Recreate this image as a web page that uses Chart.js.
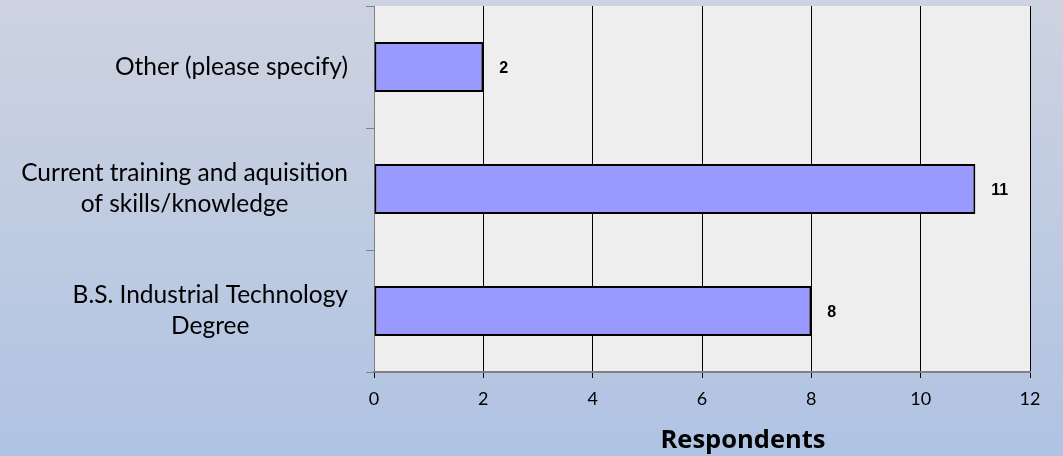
<!DOCTYPE html>
<html>
<head>
<meta charset="utf-8">
<script src="https://cdn.jsdelivr.net/npm/chart.js@4/dist/chart.umd.min.js"></script>
<style>
    html, body { margin: 0; padding: 0; }
    body {
        width: 1063px;
        height: 456px;
        background: linear-gradient(to bottom, #cdd3e0 0%, #bfcbe1 50%, #afc3e3 100%);
        overflow: hidden;
    }
    #wrap { position: relative; width: 1063px; height: 456px; }
</style>
</head>
<body>
<div id="wrap"><canvas id="reasonChart"></canvas></div>
<script>
// data
const categories = [
    ['Other (please specify)'],
    ['Current training and aquisition', 'of skills/knowledge'],
    ['B.S. Industrial Technology', 'Degree']
];
const respondents = [2, 11, 8];
const xTicks = [0, 2, 4, 6, 8, 10, 12];
const xTitle = 'Respondents';

const labelFont = '24.5px Lato, "Open Sans", sans-serif';
const labelLineHeight = 31;

// grey plot area behind the bars
const plotBackground = {
    id: 'plotBackground',
    beforeDraw(chart) {
        const {ctx, chartArea} = chart;
        ctx.save();
        ctx.fillStyle = '#eeeeee';
        ctx.fillRect(chartArea.left, chartArea.top, chartArea.right - chartArea.left, chartArea.bottom - chartArea.top);
        ctx.restore();
    }
};

// category labels: block right aligned to the axis, lines centred in the block
const categoryLabels = {
    id: 'categoryLabels',
    afterDraw(chart) {
        const {ctx} = chart;
        const yAxis = chart.scales.y;
        const right = yAxis.right - 8 - 18;
        ctx.save();
        ctx.font = labelFont;
        ctx.fillStyle = '#000';
        ctx.textAlign = 'center';
        ctx.textBaseline = 'middle';
        categories.forEach((lines, i) => {
            const y = yAxis.getPixelForTick(i);
            const blockWidth = Math.max(...lines.map(l => ctx.measureText(l).width));
            const cx = right - blockWidth / 2;
            const y0 = y - (lines.length - 1) * labelLineHeight / 2;
            lines.forEach((line, j) => {
                ctx.fillText(line, cx, y0 + j * labelLineHeight);
            });
        });
        ctx.restore();
    }
};

// x axis title, sits a bit right of the axis centre like the original
const axisTitle = {
    id: 'axisTitle',
    afterDraw(chart) {
        const {ctx} = chart;
        const xAxis = chart.scales.x;
        const cx = (xAxis.left + xAxis.right) / 2 + 41;
        ctx.save();
        ctx.font = 'bold 25.5px "Open Sans", sans-serif';
        ctx.fillStyle = '#000';
        ctx.textAlign = 'center';
        ctx.textBaseline = 'alphabetic';
        ctx.fillText(xTitle, cx, xAxis.bottom - 8);
        ctx.restore();
    }
};

// bold value labels right of each bar
const valueLabels = {
    id: 'valueLabels',
    afterDatasetsDraw(chart) {
        const {ctx} = chart;
        const meta = chart.getDatasetMeta(0);
        ctx.save();
        ctx.font = 'bold 16px "Liberation Sans", Arial, sans-serif';
        ctx.fillStyle = '#000';
        ctx.textAlign = 'left';
        ctx.textBaseline = 'middle';
        meta.data.forEach((bar, i) => {
            ctx.fillText(String(respondents[i]), bar.x + 16, bar.y + 2);
        });
        ctx.restore();
    }
};

const ctx = document.getElementById('reasonChart').getContext('2d');
const reasonChart = new Chart(ctx, {
    type: 'bar',
    data: {
        labels: categories,
        datasets: [{
            data: respondents,
            backgroundColor: '#9999ff',
            borderColor: '#000000',
            borderWidth: 2,
            borderSkipped: false,
            barPercentage: 0.41,
            categoryPercentage: 1.0
        }]
    },
    options: {
        indexAxis: 'y',
        responsive: true,
        maintainAspectRatio: false,
        animation: false,
        layout: {
            padding: {top: 6, right: 33, left: 0, bottom: 0}
        },
        plugins: {
            legend: {display: false},
            tooltip: {enabled: false}
        },
        scales: {
            x: {
                type: 'linear',
                min: 0,
                max: 12,
                afterBuildTicks(axis) {
                    axis.ticks = xTicks.map(v => ({value: v}));
                },
                afterFit(axis) {
                    axis.height = 84;
                    axis.paddingLeft = 0;
                    axis.paddingRight = 0;
                },
                grid: {
                    color: '#000000',
                    lineWidth: 1,
                    tickLength: 6,
                    drawTicks: true
                },
                border: {
                    display: true,
                    color: '#808080',
                    width: 2
                },
                ticks: {
                    color: '#000',
                    padding: 10,
                    font: {family: 'Lato, "Open Sans", sans-serif', size: 18}
                },
                title: {
                    display: false
                }
            },
            y: {
                afterFit(axis) {
                    axis.width = 374;
                    axis.paddingTop = 0;
                    axis.paddingBottom = 0;
                },
                grid: {
                    offset: true,
                    drawOnChartArea: false,
                    drawTicks: true,
                    tickLength: 8,
                    color: '#808080',
                    lineWidth: 1
                },
                border: {
                    display: true,
                    color: '#808080',
                    width: 1
                },
                ticks: {
                    display: false
                }
            }
        }
    },
    plugins: [plotBackground, categoryLabels, axisTitle, valueLabels]
});
</script>
</body>
</html>
